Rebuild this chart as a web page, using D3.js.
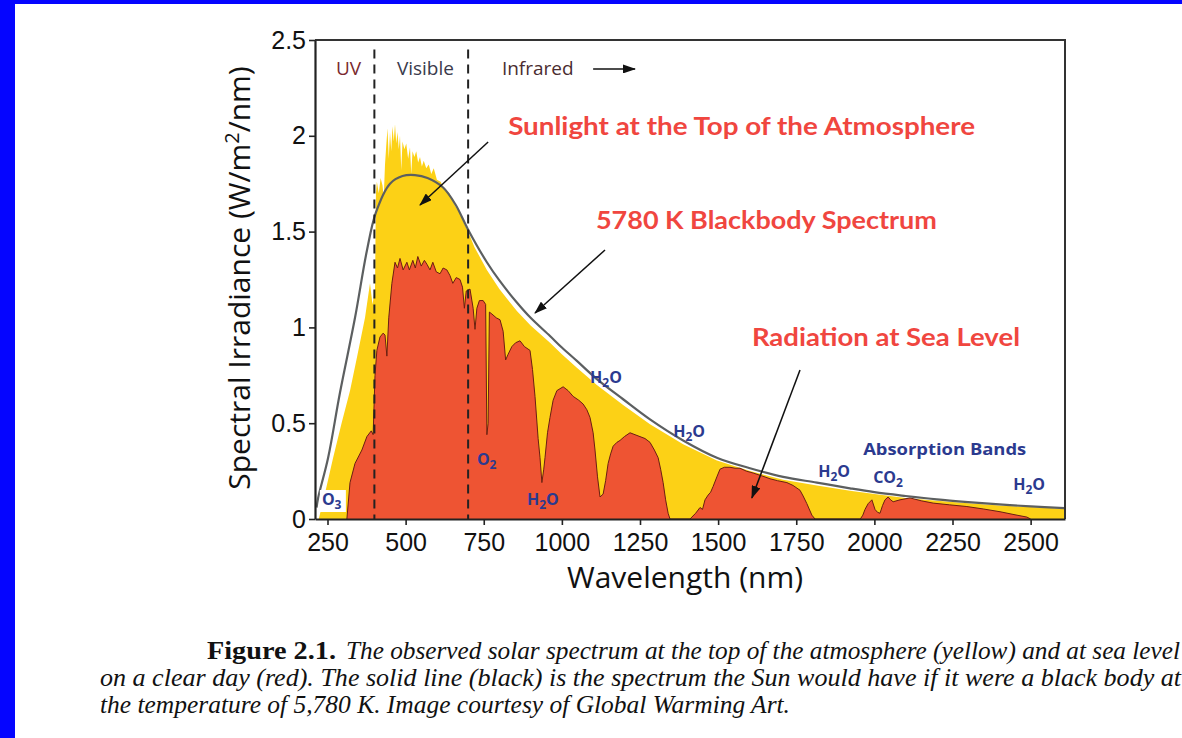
<!DOCTYPE html>
<html>
<head>
<meta charset="utf-8">
<script src="https://cdn.jsdelivr.net/npm/d3@7/dist/d3.min.js"></script>
<style>
  body { margin: 0; background: #fff; }
  svg { display: block; }
</style>
</head>
<body>
<div id="chart"></div>
<script>
// values: [wavelength nm, W/m2/nm]
const blackbody = [
  [215, 0.06], [220, 0.11], [252, 0.32], [290, 0.66], [338, 1.05], [376, 1.40],
  [405, 1.60], [450, 1.75], [490, 1.79], [530, 1.795], [570, 1.78], [620, 1.73],
  [660, 1.64], [700, 1.51], [760, 1.34], [800, 1.245], [856, 1.13], [900, 1.05],
  [962, 0.955], [1000, 0.895], [1048, 0.825], [1112, 0.73], [1196, 0.625], [1282, 0.52],
  [1388, 0.41], [1496, 0.32], [1602, 0.265], [1708, 0.22], [1816, 0.19], [1922, 0.16],
  [2000, 0.14], [2100, 0.12], [2200, 0.102], [2300, 0.088], [2400, 0.076], [2500, 0.066],
  [2608, 0.057]
];

const topOfAtmosphere = [
  [222, 0], [240, 0.12], [268, 0.32], [295, 0.5], [322, 0.67], [345, 0.85], [370, 1.05],
  [386, 1.23], [394, 1.12], [402, 1.2], [405, 1.7], [408, 1.76], [414, 1.70], [420, 1.78],
  [426, 1.74], [430, 1.68], [434, 1.85], [438, 1.95], [442, 2.04], [446, 1.88], [450, 2.02],
  [454, 1.92], [458, 2.05], [462, 1.97], [466, 2.06], [470, 1.96], [474, 2.02], [478, 1.93],
  [482, 2.0], [486, 1.82], [490, 1.97], [496, 1.93], [502, 1.96], [508, 1.88], [514, 1.94],
  [518, 1.80], [522, 1.92], [528, 1.89], [534, 1.92], [540, 1.86], [546, 1.89], [552, 1.84],
  [558, 1.87], [566, 1.83], [574, 1.85], [582, 1.80], [590, 1.83], [600, 1.77], [612, 1.76],
  [624, 1.72], [640, 1.70], [656, 1.64], [672, 1.60], [688, 1.54], [700, 1.50], [720, 1.42],
  [760, 1.30], [800, 1.20], [856, 1.085], [900, 1.01], [962, 0.92], [1000, 0.86], [1048, 0.79],
  [1112, 0.70], [1196, 0.595], [1282, 0.495], [1388, 0.39], [1496, 0.305], [1602, 0.25],
  [1708, 0.205], [1816, 0.175], [1922, 0.148], [2000, 0.13], [2100, 0.11], [2200, 0.095],
  [2300, 0.082], [2400, 0.071], [2500, 0.062], [2608, 0.053]
];

const seaLevel = [
  [312, 0], [322, 0.19], [338, 0.29], [360, 0.36], [376, 0.43], [390, 0.46], [396, 0.44],
  [402, 0.75], [408, 0.88], [418, 0.95], [428, 0.97], [434, 0.96], [440, 0.85], [446, 1.05],
  [456, 1.23], [466, 1.34], [474, 1.31], [482, 1.36], [492, 1.30], [504, 1.34], [512, 1.30],
  [523, 1.35], [531, 1.31], [539, 1.37], [550, 1.32], [560, 1.35], [568, 1.33], [578, 1.30],
  [587, 1.34], [598, 1.29], [610, 1.28], [620, 1.31], [632, 1.30], [642, 1.27], [651, 1.23],
  [662, 1.26], [674, 1.25], [682, 1.21], [688, 1.10], [694, 1.19], [706, 1.20], [716, 1.10],
  [722, 0.99], [728, 1.10], [736, 1.14], [748, 1.14], [756, 1.12], [760, 0.44], [764, 0.50],
  [768, 1.08], [776, 1.07], [790, 1.05], [802, 1.04], [812, 0.98], [820, 0.83], [828, 0.86],
  [840, 0.90], [852, 0.92], [866, 0.93], [880, 0.90], [898, 0.88], [906, 0.78], [914, 0.64],
  [924, 0.42], [930, 0.32], [936, 0.19], [942, 0.26], [946, 0.32], [954, 0.45], [962, 0.53],
  [972, 0.62], [984, 0.67], [1004, 0.69], [1020, 0.67], [1036, 0.64], [1054, 0.62], [1068, 0.60],
  [1080, 0.57], [1090, 0.53], [1100, 0.45], [1106, 0.36], [1114, 0.22], [1122, 0.115],
  [1132, 0.13], [1140, 0.2], [1148, 0.29], [1156, 0.34], [1164, 0.38], [1176, 0.40],
  [1186, 0.41], [1200, 0.43], [1218, 0.45], [1234, 0.44], [1250, 0.43], [1266, 0.42],
  [1282, 0.40], [1296, 0.36], [1308, 0.32], [1316, 0.26], [1324, 0.19], [1332, 0.10],
  [1340, 0.03], [1346, 0], [1410, 0], [1416, 0.01], [1428, 0.03], [1442, 0.06], [1450, 0.05],
  [1458, 0.10], [1468, 0.125], [1476, 0.14], [1484, 0.17], [1496, 0.22], [1506, 0.26],
  [1520, 0.27], [1538, 0.27], [1554, 0.265], [1570, 0.265], [1590, 0.25], [1612, 0.24],
  [1640, 0.225], [1666, 0.21], [1690, 0.20], [1720, 0.19], [1740, 0.175], [1762, 0.15],
  [1772, 0.12], [1784, 0.08], [1800, 0.02], [1810, 0], [1955, 0], [1963, 0.02], [1970, 0.05],
  [1980, 0.08], [1992, 0.10], [2002, 0.05], [2010, 0.035], [2018, 0.03], [2026, 0.07],
  [2034, 0.10], [2044, 0.115], [2052, 0.10], [2060, 0.09], [2082, 0.10], [2114, 0.11],
  [2150, 0.095], [2188, 0.083], [2240, 0.074], [2296, 0.065], [2350, 0.052], [2402, 0.038],
  [2450, 0.022], [2488, 0.01], [2500, 0]
];

const xTicks = [250, 500, 750, 1000, 1250, 1500, 1750, 2000, 2250, 2500];
const yTicks = [0, 0.5, 1, 1.5, 2, 2.5];
const regionEdges = [400, 700];

const regionNames = ['UV', 'Visible', 'Infrared'];
const regionStart = [277, 472, 808];

// absorption labels: name, subscript, trailing text, anchor wavelength / value
const bandNames = ['O', 'O', 'H', 'H', 'H', 'H', 'CO', 'H'];
const bandSubs = ['3', '2', '2', '2', '2', '2', '2', '2'];
const bandTails = ['', '', 'O', 'O', 'O', 'O', '', 'O'];
const bandWl = [232, 728, 888, 1090, 1356, 1820, 1996, 2444];
const bandVal = [0.073, 0.282, 0.073, 0.71, 0.428, 0.219, 0.188, 0.151];

const callouts = ['Sunlight at the Top of the Atmosphere', '5780 K Blackbody Spectrum', 'Radiation at Sea Level'];
const calloutWl = [[828, 2322], [1109, 2200], [1608, 2466]];
const calloutVal = [2.004, 1.514, 0.903];
// arrows [from wl, from val, to wl, to val]
const arrows = [
  [764, 1.968, 546, 1.639],
  [1138, 1.404, 914, 1.075],
  [1762, 0.778, 1608, 0.110],
  [1100, 2.349, 1234, 2.349]
];

const width = 1182;
const height = 738;

const svg = d3.select('#chart')
  .append('svg')
  .attr('width', width)
  .attr('height', height);

svg.append('rect').attr('width', width).attr('height', height).attr('fill', '#fff');
svg.append('rect').attr('width', width).attr('height', 4).attr('fill', '#0505ff');
svg.append('rect').attr('width', 15).attr('height', height).attr('fill', '#0505ff');

svg.append('defs').append('marker')
  .attr('id', 'head')
  .attr('viewBox', '0 0 13 9')
  .attr('refX', 12)
  .attr('refY', 4.5)
  .attr('markerWidth', 13)
  .attr('markerHeight', 9)
  .attr('markerUnits', 'userSpaceOnUse')
  .attr('orient', 'auto')
  .append('path')
  .attr('d', 'M0,0 L13,4.5 L0,9 Z')
  .attr('fill', '#111');

const x = d3.scaleLinear().domain([210, 2610]).range([315, 1065]);
const y = d3.scaleLinear().domain([0, 2.5]).range([519, 40]);

const area = d3.area()
  .x(d => x(d[0]))
  .y0(y(0))
  .y1(d => y(d[1]));

const line = d3.line()
  .x(d => x(d[0]))
  .y(d => y(d[1]));

// spectra
svg.append('path').datum(topOfAtmosphere).attr('d', area).attr('fill', '#fcd116');
svg.append('path').datum(seaLevel).attr('d', area).attr('fill', '#ee5433');
svg.append('path').datum(seaLevel).attr('d', line)
  .attr('fill', 'none').attr('stroke', '#6b1e12').attr('stroke-width', 1);

svg.append('path').datum(blackbody)
  .attr('d', line.curve(d3.curveCatmullRom))
  .attr('fill', 'none')
  .attr('stroke', '#5c5f60')
  .attr('stroke-width', 2.2);

// region dividers
svg.selectAll('.divider')
  .data(regionEdges)
  .enter()
  .append('line')
  .attr('x1', d => x(d)).attr('x2', d => x(d))
  .attr('y1', y(2.45)).attr('y2', y(0))
  .attr('stroke', '#222')
  .attr('stroke-width', 2)
  .attr('stroke-dasharray', '9,6');

// frame
svg.append('path')
  .attr('d', `M${x(210)},${y(2.5)} H${x(2610)} V${y(0)}`)
  .attr('fill', 'none')
  .attr('stroke', '#333')
  .attr('stroke-width', 2);

// axes
const xAxis = svg.append('g')
  .attr('transform', `translate(0,${y(0)})`)
  .call(d3.axisBottom(x).tickValues(xTicks).tickFormat(d3.format('d')).tickSize(6).tickSizeOuter(0).tickPadding(8));

const yAxis = svg.append('g')
  .attr('transform', `translate(${x(210)},0)`)
  .call(d3.axisLeft(y).tickValues(yTicks).tickFormat(d3.format('~g')).tickSize(6).tickSizeOuter(0).tickPadding(3));

[xAxis, yAxis].forEach(g => {
  g.select('.domain').attr('stroke', '#222').attr('stroke-width', 2.2);
  g.selectAll('.tick line').attr('stroke', '#222').attr('stroke-width', 1.6);
  g.selectAll('.tick text')
    .attr('fill', '#111')
    .attr('font-family', 'Liberation Sans, Arial, sans-serif')
    .attr('font-size', 25);
});

svg.append('text')
  .attr('x', 685)
  .attr('y', 588)
  .attr('text-anchor', 'middle')
  .attr('font-family', 'Open Sans, sans-serif')
  .attr('font-size', 30)
  .attr('fill', '#111')
  .text('Wavelength (nm)');

const yTitle = svg.append('text')
  .attr('transform', 'translate(250,278) rotate(-90)')
  .attr('text-anchor', 'middle')
  .attr('font-family', 'Open Sans, sans-serif')
  .attr('font-size', 30)
  .attr('fill', '#111');
yTitle.append('tspan').text('Spectral Irradiance (W/m');
yTitle.append('tspan').attr('dy', -11).attr('font-size', 20).text('2');
yTitle.append('tspan').attr('dy', 11).text('/nm)');

// UV / Visible / Infrared
const regionColors = ['#7a2a2e', '#3a3a4c', '#4a2c30'];
svg.selectAll('.region')
  .data(regionNames)
  .enter()
  .append('text')
  .attr('x', (d, i) => x(regionStart[i]))
  .attr('y', y(2.317))
  .attr('font-family', 'Open Sans, sans-serif')
  .attr('font-size', 19)
  .attr('fill', (d, i) => regionColors[i])
  .text(d => d);

// callouts
svg.selectAll('.callout')
  .data(callouts)
  .enter()
  .append('text')
  .attr('x', (d, i) => x(calloutWl[i][0]))
  .attr('y', (d, i) => y(calloutVal[i]))
  .attr('textLength', (d, i) => x(calloutWl[i][1]) - x(calloutWl[i][0]))
  .attr('lengthAdjust', 'spacingAndGlyphs')
  .attr('font-family', 'Lato, sans-serif')
  .attr('font-weight', 700)
  .attr('font-size', 24)
  .attr('fill', '#f0463f')
  .text(d => d);

svg.selectAll('.arrow')
  .data(arrows)
  .enter()
  .append('line')
  .attr('x1', d => x(d[0])).attr('y1', d => y(d[1]))
  .attr('x2', d => x(d[2])).attr('y2', d => y(d[3]))
  .attr('stroke', '#111')
  .attr('stroke-width', 1.5)
  .attr('marker-end', 'url(#head)');

// white patch behind O3
svg.append('rect')
  .attr('x', x(bandWl[0]) - 2).attr('y', y(bandVal[0]) - 15)
  .attr('width', 26).attr('height', 22)
  .attr('fill', '#fff');

const bands = svg.selectAll('.band')
  .data(bandNames)
  .enter()
  .append('text')
  .attr('x', (d, i) => x(bandWl[i]))
  .attr('y', (d, i) => y(bandVal[i]))
  .attr('font-family', 'Open Sans, sans-serif')
  .attr('font-weight', 700)
  .attr('font-size', 16)
  .attr('fill', '#2b3a8f');
bands.append('tspan').text(d => d);
bands.append('tspan').attr('dy', 4).attr('font-size', 12).text((d, i) => bandSubs[i]);
bands.append('tspan').attr('dy', -4).text((d, i) => bandTails[i]);

svg.append('text')
  .attr('x', x(1964))
  .attr('y', y(0.334))
  .attr('textLength', x(2486) - x(1964))
  .attr('lengthAdjust', 'spacingAndGlyphs')
  .attr('font-family', 'Open Sans, sans-serif')
  .attr('font-weight', 700)
  .attr('font-size', 16)
  .attr('fill', '#2b3a8f')
  .text('Absorption Bands');

// caption
const serif = 'Liberation Serif, Times New Roman, serif';
svg.append('text')
  .attr('x', 207).attr('y', 659)
  .attr('textLength', 129)
  .attr('lengthAdjust', 'spacingAndGlyphs')
  .attr('font-family', serif).attr('font-weight', 700).attr('font-size', 25)
  .attr('fill', '#111')
  .text('Figure 2.1.');

const captionLines = [
  'The observed solar spectrum at the top of the atmosphere (yellow) and at sea level',
  'on a clear day (red). The solid line (black) is the spectrum the Sun would have if it were a black body at',
  'the temperature of 5,780 K. Image courtesy of Global Warming Art.'
];
const captionX = [346, 100, 100];
const captionEnd = [1180, 1181, 790];
const captionY = [659, 686, 713];

svg.selectAll('.caption')
  .data(captionLines)
  .enter()
  .append('text')
  .attr('x', (d, i) => captionX[i])
  .attr('y', (d, i) => captionY[i])
  .attr('textLength', (d, i) => captionEnd[i] - captionX[i])
  .attr('lengthAdjust', 'spacingAndGlyphs')
  .attr('font-family', serif)
  .attr('font-style', 'italic')
  .attr('font-size', 25)
  .attr('fill', '#111')
  .text(d => d);
</script>
</body>
</html>
